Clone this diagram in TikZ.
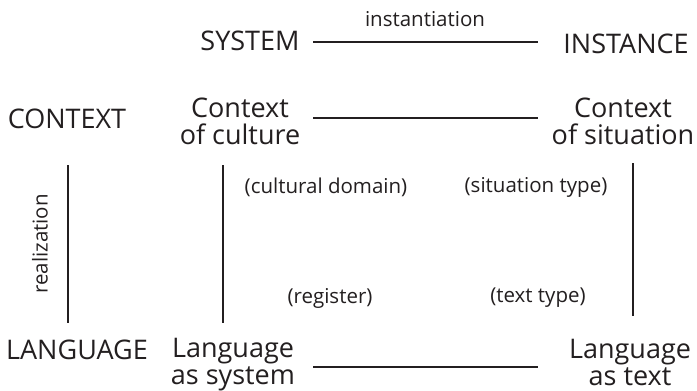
\documentclass[tikz,border=0pt]{standalone}
\usepackage{fontspec}
\setmainfont{Open Sans}
\definecolor{ink}{HTML}{231F20}
\begin{document}
\begin{tikzpicture}[x=1pt,y=-1pt,
  big/.style={font=\fontsize{27}{27}\selectfont, text=ink, inner sep=0pt, align=center},
  small/.style={font=\fontsize{20.5}{22}\selectfont, text=ink, inner sep=0pt},
  link/.style={draw=ink, line width=1.3pt}]
\useasboundingbox[fill=white] (0,0) rectangle (697,391);
\node[big] (sys) at (250,41) {SYSTEM};
\node[big] (inst) at (626,44) {INSTANCE};
\node[small] (instn) at (425,19) {instantiation};
\node[big] (ctx) at (67,119) {CONTEXT};
\node[big] (cc) at (240,121) {Context\\of culture};
\node[big] (cs) at (623,121) {Context\\of situation};
\node[small] (cd) at (326,187) {(cultural domain)};
\node[small] (st) at (536,187) {(situation type)};
\node[small, rotate=90] (real) at (40,244) {realization};
\node[small] (reg) at (330,298) {(register)};
\node[small] (tt) at (538,298) {(text type)};
\node[big] (lang) at (77,350) {LANGUAGE};
\node[big] (lsys) at (233,365) {Language\\as system};
\node[big] (ltxt) at (630,362) {Language\\as text};
% instantiation
\draw[link] ([xshift=63pt,yshift=-1pt]sys.center) -- ([xshift=-88pt,yshift=-1pt]sys.center -| inst.center);
\draw[link] ([xshift=73pt,yshift=3pt]cc.center) -- ([xshift=-85pt,yshift=3pt]cc.center -| cs.center);
\draw[link] ([xshift=80pt,yshift=-2pt]lsys.center) -- ([xshift=-92pt,yshift=-2pt]lsys.center -| ltxt.center);
% realization
\draw[link] ([xshift=1pt,yshift=-46pt]ctx.center) -- ([xshift=-9pt,yshift=27pt]lang.center);
\draw[link] ([xshift=-17pt,yshift=-44pt]cc.center) -- ([xshift=-10pt,yshift=42pt]lsys.center);
\draw[link] ([xshift=10pt,yshift=-42pt]cs.center) -- ([xshift=3pt,yshift=46pt]ltxt.center);
\end{tikzpicture}
\end{document}
